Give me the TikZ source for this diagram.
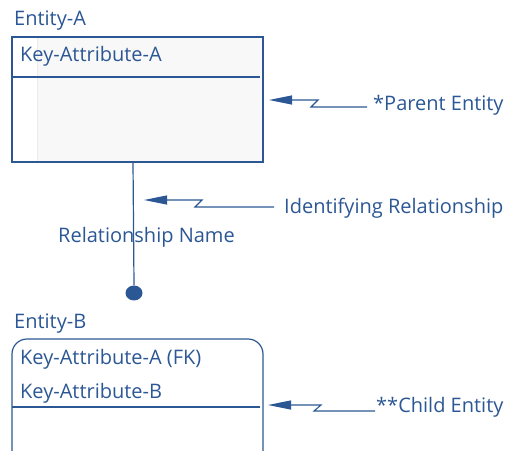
\documentclass[tikz,border=0pt]{standalone}
\usepackage{fontspec}
\setmainfont{Open Sans}
\usetikzlibrary{arrows.meta}
\definecolor{ink}{HTML}{2B5794}
\definecolor{paper}{HTML}{F8F8F8}
\tikzset{
  lbl/.style={inner sep=0pt, anchor=west, text=ink, yshift=-1.5pt, font=\fontsize{20}{23}\selectfont},
  edge/.style={draw=ink, line width=1.2pt},
  callout/.style={draw=ink, line width=1.1pt, -{Triangle[length=23pt,width=9pt]}},
}
\begin{document}
\begin{tikzpicture}[x=1pt,y=-1pt]
\useasboundingbox (0,0) rectangle (508,450);
% Entity A
\node[lbl] (entA) at (14,19) {Entity-A};
\fill[paper] (12,37) rectangle (263,162);
\fill[white] (12,37) rectangle (37,162);
\draw[black!8, line width=0.6pt] (37,37) -- (37,162);
\draw[edge] (12,37) rectangle (263,162);
\coordinate (boxA) at (263,100);
\node[lbl] (keyA) at (20,55) {Key-Attribute-A};
\draw[edge] (12,77) -- (260,77);
% relationship
\coordinate (relTop) at (133,162);
\node[circle, fill=ink, minimum width=17pt, minimum height=15pt, inner sep=0pt, yscale=0.88] (dot) at (134,293) {};
\draw[edge] (relTop) -- (dot.north);
\node[lbl] (relname) at (58,236) {Relationship Name};
\coordinate (relLine) at (134,200);
% Entity B
\node[lbl] (entB) at (14,322) {Entity-B};
\draw[edge, rounded corners=15pt] (12,455) -- (12,339) -- (263,339) -- (263,455);
\coordinate (boxB) at (263,405);
\node[lbl] (keyAB) at (20,358) {Key-Attribute-A (FK)};
\node[lbl] (keyB) at (20,392) {Key-Attribute-B};
\draw[edge] (12,407) -- (260,407);
% callouts
\node[lbl] (parent) at (373,104) {*Parent Entity};
\draw[callout] (367,107) -- (311,107) -- (318,100) -- ([xshift=6pt]boxA);
\node[lbl] (ident) at (284,207) {Identifying Relationship};
\draw[callout] (274,207) -- (195,207) -- (202,200) -- ([xshift=10pt]relLine);
\node[lbl] (child) at (376,406) {**Child Entity};
\draw[callout] (375,411) -- (314,411) -- (321,405) -- ([xshift=5pt]boxB);
\end{tikzpicture}
\end{document}
